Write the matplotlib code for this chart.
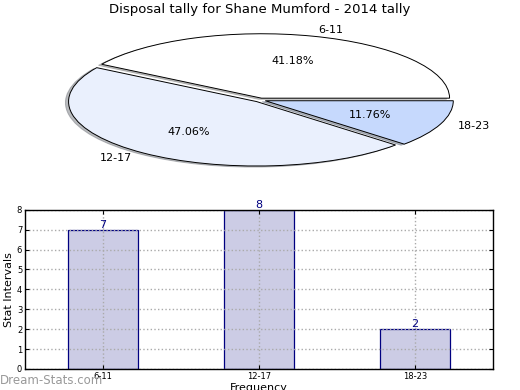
import matplotlib
matplotlib.use("Agg")
import matplotlib.pyplot as plt

categories = ["6-11", "12-17", "18-23"]
counts = [7, 8, 2]
pie_colors = ["#ffffff", "#eaf0fd", "#c6d9fd"]

fig = plt.figure(figsize=(5.2, 3.9), dpi=100)

# pie on top, stretched into an ellipse
ax1 = fig.add_axes([0.048, 0.537, 0.904, 0.413])
wedges, texts, autotexts = ax1.pie(
    counts, labels=categories, colors=pie_colors, autopct="%.2f%%",
    explode=[0.03, 0.03, 0.03],
    shadow={"ox": -0.012, "oy": -0.012, "shade": 0.5},
    startangle=0,
    wedgeprops=dict(edgecolor="black", linewidth=0.7),
    textprops=dict(fontsize=8))
ax1.set_aspect("auto")
fig.text(0.5, 0.975, "Disposal tally for Shane Mumford - 2014 tally",
         ha="center", va="center", fontsize=9.5)

# bar chart below
ax2 = fig.add_axes([0.048, 0.054, 0.9, 0.408])
x = range(len(categories))
bars = ax2.bar(x, counts, width=0.45, color="#ccccE5", edgecolor="#000080",
               linewidth=0.9, zorder=1)
for xi, c in zip(x, counts):
    ax2.text(xi, c, str(c), ha="center", va="bottom", fontsize=8,
             color="#000080")
ax2.set_xlim(-0.5, 2.5)
ax2.set_ylim(0, 8)
ax2.set_xticks(list(x))
ax2.set_xticklabels(categories)
ax2.set_yticks(range(0, 9))
ax2.tick_params(axis="both", labelsize=6, direction="in", length=3,
                top=True, right=True, pad=2)
ax2.set_axisbelow(False)
ax2.grid(True, linestyle=":", color="#aaaaaa", linewidth=1, zorder=1.5)
ax2.set_xlabel("Frequency", fontsize=8, labelpad=2)
ax2.set_ylabel("Stat Intervals", fontsize=8, labelpad=2)
for s in ax2.spines.values():
    s.set_linewidth(1.0)
    s.set_zorder(4)

fig.text(0.0, 0.025, "Dream-Stats.com", fontsize=8.5, color="#999999",
         ha="left", va="center")

fig.savefig("out.png", dpi=100)
